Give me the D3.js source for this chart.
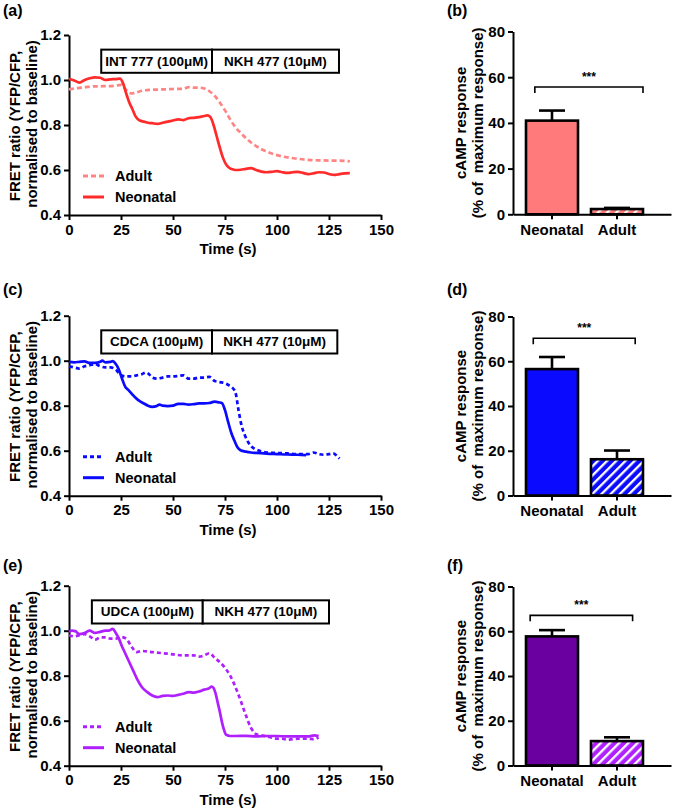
<!DOCTYPE html>
<html>
<head>
<meta charset="utf-8">
<script src="https://cdn.jsdelivr.net/npm/d3@7"></script>
<style>
  body { margin: 0; background: #fff; }
  svg { display: block; font-family: Arial, "Liberation Sans", sans-serif; font-weight: bold; }
</style>
</head>
<body>
<svg id="chart" width="675" height="811"></svg>
<script>
// ---------------- DATA ----------------
// Panel (a) INT 777
const aNeoT = [0,2.5,5,7.5,10,12.5,15,17.5,20,22.5,24.5,26,27.5,29,30.5,32,34,36,38,40,42.5,45,47.5,50,52.5,55,57.5,60,62.5,65,66.5,68,69.5,71,72.5,74,75.5,77,78.5,80,82.5,85,87.5,90,92.5,95,97.5,100,102.5,105,107.5,110,112.5,115,117.5,120,122.5,125,127.5,130,132.5,135];
const aNeoY = [1.005,0.998,0.988,1.0,1.008,1.012,1.01,1.0,1.003,1.004,1.006,0.985,0.94,0.9,0.87,0.838,0.82,0.815,0.81,0.808,0.805,0.81,0.815,0.82,0.825,0.822,0.83,0.832,0.835,0.84,0.843,0.835,0.8,0.75,0.7,0.655,0.625,0.61,0.603,0.6,0.601,0.605,0.608,0.6,0.593,0.59,0.592,0.595,0.59,0.587,0.59,0.592,0.587,0.582,0.585,0.59,0.589,0.582,0.578,0.582,0.585,0.586];
const aAdT = [0,2.5,5,7.5,10,12.5,15,17.5,20,22.5,25,27.5,30,32.5,35,37.5,40,45,50,55,57.5,60,62.5,65,67.5,70,72.5,75,77.5,80,82.5,85,87.5,90,92.5,95,97.5,100,105,110,115,120,125,130,135];
const aAdY = [0.958,0.962,0.965,0.968,0.97,0.972,0.972,0.973,0.973,0.975,0.978,0.955,0.94,0.945,0.952,0.955,0.957,0.958,0.96,0.961,0.968,0.966,0.966,0.962,0.95,0.93,0.9,0.865,0.825,0.79,0.765,0.742,0.722,0.706,0.692,0.682,0.673,0.666,0.656,0.65,0.645,0.643,0.642,0.642,0.638];

// Panel (c) CDCA
const cNeoT = [0,2.5,5,7.5,10,12.5,15,16,17.5,20,21,22.5,24,25.5,27,28.5,30,32,34,36,38,40,42,43.5,45,47.5,50,52.5,55,57.5,60,62.5,65,67.5,70,72,73.5,75,76.5,78,79.5,81,82.5,85,87.5,90,95,100,105,110,114];
const cNeoY = [0.995,0.993,0.995,0.997,0.99,0.99,0.995,1.0,0.993,0.995,0.998,0.985,0.96,0.92,0.885,0.87,0.855,0.835,0.82,0.81,0.8,0.795,0.798,0.805,0.8,0.798,0.8,0.808,0.808,0.805,0.807,0.81,0.81,0.812,0.818,0.815,0.812,0.78,0.728,0.68,0.645,0.615,0.602,0.596,0.592,0.59,0.587,0.585,0.583,0.582,0.58];
const cAdT = [0,2.5,5,7.5,10,12.5,15,17.5,20,22.5,25,27.5,30,32.5,35,37,38.5,40,42.5,45,47.5,50,52.5,55,57.5,60,62.5,65,67.5,70,72.5,75,77,78.5,80,81.5,83,84.5,86,87.5,89,92,95,100,105,110,115,117.5,120,122.5,125,127,129,130];
const cAdY = [0.975,0.97,0.965,0.975,0.98,0.985,0.975,0.97,0.97,0.96,0.935,0.93,0.93,0.935,0.94,0.948,0.94,0.925,0.92,0.925,0.93,0.93,0.932,0.935,0.92,0.92,0.925,0.925,0.928,0.91,0.905,0.9,0.89,0.88,0.86,0.78,0.71,0.67,0.64,0.62,0.61,0.598,0.592,0.59,0.588,0.585,0.585,0.592,0.585,0.582,0.585,0.588,0.575,0.565];

// Panel (e) UDCA
const eNeoT = [0,1.5,3,5,7.5,10,12.5,15,17.5,19,21,22.5,24,25.5,27,28.5,30,31.5,33,35,37.5,40,42.5,45,47.5,50,52.5,55,57.5,60,62.5,65,67.5,68.5,69.5,70.5,71.5,72.5,73.5,74.5,75.5,77.5,80,85,90,95,100,105,110,115,118,120];
const eNeoY = [0.995,1.0,0.998,0.985,0.99,1.0,0.99,0.995,1.0,1.0,1.008,0.99,0.965,0.93,0.9,0.87,0.84,0.81,0.78,0.75,0.728,0.712,0.705,0.71,0.712,0.71,0.715,0.72,0.727,0.725,0.73,0.738,0.745,0.752,0.745,0.72,0.68,0.64,0.595,0.56,0.538,0.532,0.532,0.533,0.53,0.532,0.532,0.53,0.53,0.53,0.535,0.532];
const eAdT = [0,2.5,5,7.5,10,12.5,15,17.5,20,22.5,25,27.5,30,32.5,35,40,45,50,55,60,62.5,65,67.5,70,72.5,75,77.5,80,82.5,85,87.5,89,90,92.5,95,97.5,100,102.5,105,107.5,110,112.5,115,117.5,120];
const eAdY = [0.98,0.975,0.98,0.985,0.975,0.96,0.97,0.97,0.965,0.965,0.972,0.965,0.93,0.905,0.91,0.905,0.9,0.895,0.89,0.89,0.885,0.89,0.9,0.88,0.86,0.835,0.8,0.75,0.69,0.625,0.568,0.548,0.54,0.535,0.53,0.525,0.52,0.52,0.515,0.518,0.52,0.52,0.52,0.518,0.525];

// Drug application boxes (time, s)
const drugLabels = [["INT 777 (100\u03bcM)", "NKH 477 (10\u03bcM)"], ["CDCA (100\u03bcM)", "NKH 477 (10\u03bcM)"], ["UDCA (100\u03bcM)", "NKH 477 (10\u03bcM)"]];
const drugStart = [15.5, 15.5, 11];
const drugSwitch = [68.75, 68.75, 64.3];
const drugEnd = [129.8, 129, 125];

const xTicks = [0, 25, 50, 75, 100, 125, 150];
const yTicks = [0.4, 0.6, 0.8, 1.0, 1.2];

// Bar charts
const barCategories = ["Neonatal", "Adult"];
const barB = [41.0, 2.3], errB = [4.4, 0.5];
const barD = [56.5, 16.2], errD = [5.4, 3.9];
const barF = [57.7, 10.9], errF = [2.8, 1.7];
const barTicks = [0, 20, 40, 60, 80];
const sigLevel = [55.7, 70.3, 67.1];

// ---------------- DRAWING ----------------
const svg = d3.select("#chart");
svg.append("rect").attr("width", 675).attr("height", 811).attr("fill", "#fff");

const defs = svg.append("defs");
function hatch(id, color) {
  const p = defs.append("pattern").attr("id", id).attr("patternUnits", "userSpaceOnUse")
    .attr("width", 6.5).attr("height", 6.5).attr("patternTransform", "rotate(45)");
  p.append("rect").attr("width", 6.5).attr("height", 6.5).attr("fill", color);
  p.append("rect").attr("x", 0).attr("width", 2.3).attr("height", 6.5).attr("fill", "#fff");
}
hatch("hB", "#ff7b7b");
hatch("hD", "#0a0aff");
hatch("hF", "#b020ff");

function styleAxis(g, fs) {
  g.selectAll(".domain").attr("stroke", "#000").attr("stroke-width", 2);
  g.selectAll(".tick line").attr("stroke", "#000").attr("stroke-width", 2);
  g.selectAll(".tick text").attr("fill", "#000").style("font-size", (fs || 15) + "px").style("font-weight", "bold")
    .style("font-family", "Arial, 'Liberation Sans', sans-serif");
}

function linePanel(o) {
  const top = o.top, h = 180;
  const x = d3.scaleLinear().domain([0, 150]).range([69, 381]);
  const y = d3.scaleLinear().domain([0.4, 1.2]).range([top + h, top]);
  const g = svg.append("g");

  g.append("text").attr("x", 3).attr("y", o.labelY).style("font-size", "16px").text(o.label);

  const ya = g.append("g").attr("transform", "translate(69,0)")
    .call(d3.axisLeft(y).tickValues(yTicks).tickFormat(d3.format(".1f")).tickSize(5).tickSizeOuter(0).tickPadding(3));
  styleAxis(ya);
  const xa = g.append("g").attr("transform", `translate(0,${top + h})`)
    .call(d3.axisBottom(x).tickValues(xTicks).tickSize(5).tickSizeOuter(0).tickPadding(4));
  styleAxis(xa);

  g.append("text").attr("transform", `translate(14,${top + 91}) rotate(-90)`).attr("text-anchor", "middle")
    .attr("dominant-baseline", "central").style("font-size", "15px").text("FRET ratio (YFP/CFP,");
  g.append("text").attr("transform", `translate(31,${top + 89}) rotate(-90)`).attr("text-anchor", "middle")
    .attr("dominant-baseline", "central").style("font-size", "15px").text("normalised to baseline)");
  g.append("text").attr("x", 228).attr("y", top + 219).attr("text-anchor", "middle").style("font-size", "15px").text("Time (s)");

  const by0 = y(1.135), by1 = y(1.032);
  [[o.start, o.mid, o.labels[0]], [o.mid, o.end, o.labels[1]]].forEach(([a, b, t]) => {
    g.append("rect").attr("x", x(a)).attr("y", by0).attr("width", x(b) - x(a)).attr("height", by1 - by0)
      .attr("fill", "#fff").attr("stroke", "#000").attr("stroke-width", 2);
    g.append("text").attr("x", (x(a) + x(b)) / 2).attr("y", (by0 + by1) / 2).attr("text-anchor", "middle")
      .attr("dominant-baseline", "central").style("font-size", "13.5px").text(t);
  });

  const line = d3.line().x(d => x(d[0])).y(d => y(d[1])).curve(d3.curveMonotoneX);
  const adult = o.adT.map((t, i) => [t, o.adY[i]]);
  const neo = o.neoT.map((t, i) => [t, o.neoY[i]]);
  g.append("path").datum(adult).attr("d", line).attr("fill", "none").attr("stroke", o.adColor)
    .attr("stroke-width", 2.7).attr("stroke-dasharray", o.dash);
  g.append("path").datum(neo).attr("d", line).attr("fill", "none").attr("stroke", o.neoColor)
    .attr("stroke-width", 2.7);

  const ly1 = top + 141, ly2 = top + 162;
  g.append("line").attr("x1", 83).attr("x2", 104).attr("y1", ly1).attr("y2", ly1)
    .attr("stroke", o.adColor).attr("stroke-width", 3).attr("stroke-dasharray", o.dash);
  g.append("line").attr("x1", 83).attr("x2", 104).attr("y1", ly2).attr("y2", ly2)
    .attr("stroke", o.neoColor).attr("stroke-width", 3);
  g.append("text").attr("x", 115).attr("y", ly1).attr("dominant-baseline", "central").style("font-size", "14.5px").text("Adult");
  g.append("text").attr("x", 115).attr("y", ly2).attr("dominant-baseline", "central").style("font-size", "14.5px").text("Neonatal");
}

function barPanel(o) {
  const x = d3.scaleBand().domain(barCategories).range([513, 671])
    .paddingInner(0.2).paddingOuter(0.3154).align(0.317);
  const y = d3.scaleLinear().domain([0, 80]).range([o.bottom, o.top]);
  const g = svg.append("g");

  g.append("text").attr("x", 447).attr("y", o.labelY).style("font-size", "16px").text(o.label);

  barCategories.forEach((c, i) => {
    g.append("rect").attr("x", x(c)).attr("y", y(o.vals[i])).attr("width", x.bandwidth())
      .attr("height", y(0) - y(o.vals[i])).attr("fill", i === 0 ? o.fill : `url(#${o.hatch})`)
      .attr("stroke", "#000").attr("stroke-width", 2.6);
    const cx = x(c) + x.bandwidth() / 2;
    const ye = y(o.vals[i] + o.errs[i]);
    g.append("line").attr("x1", cx).attr("x2", cx).attr("y1", y(o.vals[i])).attr("y2", ye)
      .attr("stroke", "#000").attr("stroke-width", 2.6);
    g.append("line").attr("x1", cx - 13).attr("x2", cx + 13).attr("y1", ye).attr("y2", ye)
      .attr("stroke", "#000").attr("stroke-width", 2.6);
  });

  const ya = g.append("g").attr("transform", "translate(513,0)")
    .call(d3.axisLeft(y).tickValues(barTicks).tickSize(5).tickSizeOuter(0).tickPadding(3));
  styleAxis(ya);
  const xa = g.append("g").attr("transform", `translate(0,${o.bottom})`)
    .call(d3.axisBottom(x).tickSize(5).tickSizeOuter(0).tickPadding(5));
  styleAxis(xa);

  const cy = (o.top + o.bottom) / 2;
  g.append("text").attr("transform", `translate(460,${cy}) rotate(-90)`).attr("text-anchor", "middle")
    .attr("dominant-baseline", "central").style("font-size", "15px").text("cAMP response");
  g.append("text").attr("transform", `translate(477,${cy}) rotate(-90)`).attr("text-anchor", "middle")
    .attr("dominant-baseline", "central").style("font-size", "15px").style("white-space", "pre").text("(% of  maximum response)");

  const bl = x("Neonatal") + x.bandwidth() * o.bl, br = x("Adult") + x.bandwidth() * o.br;
  const sy = y(o.sig);
  g.append("path").attr("d", `M${bl},${sy + 6}V${sy}H${br}V${sy + 6}`).attr("fill", "none")
    .attr("stroke", "#000").attr("stroke-width", 1.6);
  g.append("text").attr("x", (bl + br) / 2).attr("y", sy - 6).attr("text-anchor", "middle")
    .style("font-size", "12px").text("***");
}

linePanel({ top: 35, label: "(a)", labelY: 16, labels: drugLabels[0], start: drugStart[0], mid: drugSwitch[0], end: drugEnd[0],
  neoT: aNeoT, neoY: aNeoY, adT: aAdT, adY: aAdY, neoColor: "#ff2a2a", adColor: "#ff8585", dash: "5,3" });
linePanel({ top: 315.7, label: "(c)", labelY: 295, labels: drugLabels[1], start: drugStart[1], mid: drugSwitch[1], end: drugEnd[1],
  neoT: cNeoT, neoY: cNeoY, adT: cAdT, adY: cAdY, neoColor: "#0a0aff", adColor: "#0a0aff", dash: "4,3" });
linePanel({ top: 585.7, label: "(e)", labelY: 571, labels: drugLabels[2], start: drugStart[2], mid: drugSwitch[2], end: drugEnd[2],
  neoT: eNeoT, neoY: eNeoY, adT: eAdT, adY: eAdY, neoColor: "#b020ff", adColor: "#b020ff", dash: "4,3" });

barPanel({ top: 31.5, bottom: 214.3, label: "(b)", labelY: 16, vals: barB, errs: errB, fill: "#ff7b7b", hatch: "hB", sig: sigLevel[0], bl: 0.17, br: 1.0 });
barPanel({ top: 316.5, bottom: 495.5, label: "(d)", labelY: 295, vals: barD, errs: errD, fill: "#0a0aff", hatch: "hD", sig: sigLevel[1], bl: 0.14, br: 0.85 });
barPanel({ top: 586.5, bottom: 765.5, label: "(f)", labelY: 571, vals: barF, errs: errF, fill: "#6a00a0", hatch: "hF", sig: sigLevel[2], bl: 0.08, br: 0.8 });
</script>
</body>
</html>
